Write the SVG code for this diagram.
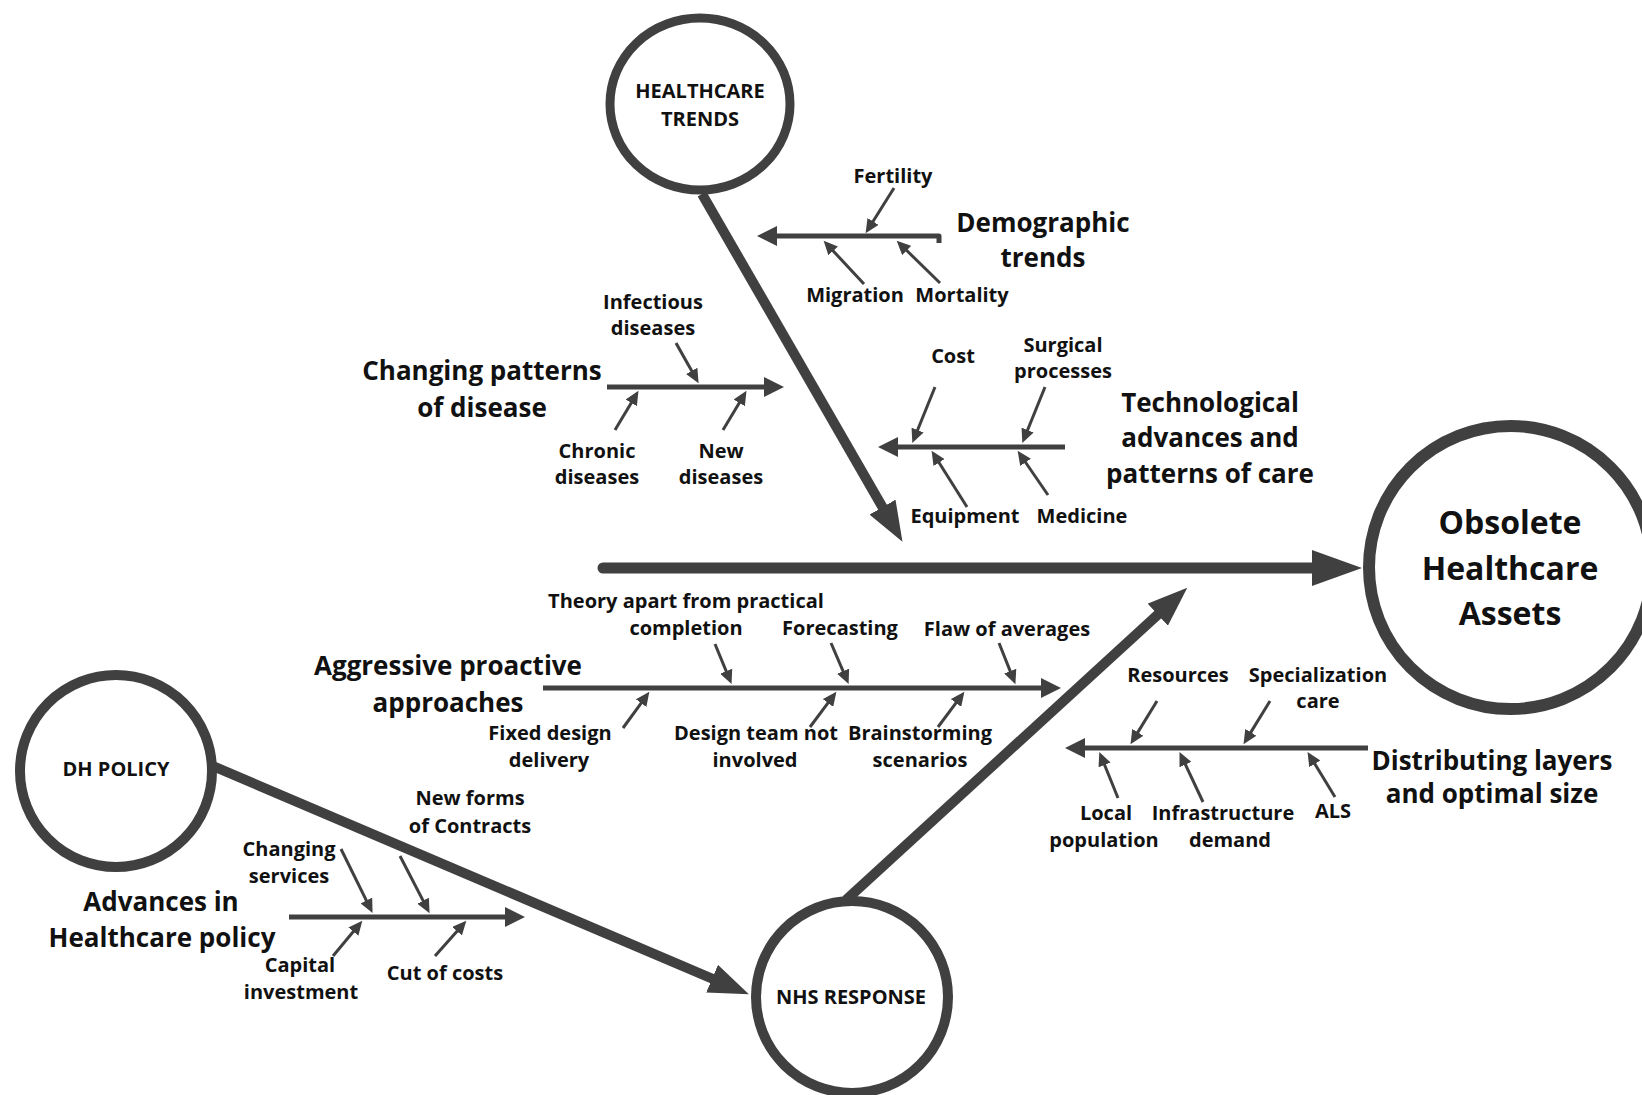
<svg xmlns="http://www.w3.org/2000/svg" width="1642" height="1095" viewBox="0 0 1642 1095">
  <style>
    text { font-family: "Open Sans", "Noto Sans", "DejaVu Sans", sans-serif; font-weight: 700; fill: #111; text-anchor: middle; }
    .sm { font-size: 20px; }
    .lg { font-size: 26px; }
    .xl { font-size: 32px; }
    .node { fill: #fff; stroke: #404040; }
    .spine { stroke: #404040; stroke-width: 11; fill: none; stroke-linecap: round; }
    .link { stroke: #404040; stroke-width: 10; fill: none; }
    .bone { stroke: #404040; stroke-width: 5; fill: none; }
    .rib { stroke: #404040; stroke-width: 3; fill: none; }
  </style>
  <defs>
    <marker id="spineHead" markerUnits="userSpaceOnUse" markerWidth="52" markerHeight="36" refX="1" refY="18" orient="auto">
      <path d="M0,0 L50,18 L0,36 Z" fill="#404040"/>
    </marker>
    <marker id="linkHead" markerUnits="userSpaceOnUse" markerWidth="42" markerHeight="30" refX="1" refY="15" orient="auto">
      <path d="M0,0 L40,15 L0,30 Z" fill="#404040"/>
    </marker>
    <marker id="boneHead" markerUnits="userSpaceOnUse" markerWidth="22" markerHeight="20" refX="1" refY="10" orient="auto">
      <path d="M0,0 L20,10 L0,20 Z" fill="#404040"/>
    </marker>
    <marker id="ribHead" markerUnits="userSpaceOnUse" markerWidth="16" markerHeight="13" refX="1" refY="6.5" orient="auto">
      <path d="M0,0 L14,6.5 L0,13 Z" fill="#404040"/>
    </marker>
  </defs>

  <g id="connectors">
    <!-- main spine into the effect -->
    <path class="spine" d="M603,568 H1313" marker-end="url(#spineHead)"/>
    <!-- category links between the driver nodes -->
    <path class="link" d="M702,194 L883,508" marker-end="url(#linkHead)"/>
    <path class="link" d="M208,764 L713,979" marker-end="url(#linkHead)"/>
    <path class="link" d="M846,900 L1158.5,614" marker-end="url(#linkHead)"/>

    <!-- bones -->
    <path class="bone" d="M939,243 V236 H776" stroke-linejoin="round" marker-end="url(#boneHead)"/>
    <path class="bone" d="M607,387 H765" marker-end="url(#boneHead)"/>
    <path class="bone" d="M1065,447 H897" marker-end="url(#boneHead)"/>
    <path class="bone" d="M543,688 H1042" marker-end="url(#boneHead)"/>
    <path class="bone" d="M1368,748 H1084" marker-end="url(#boneHead)"/>
    <path class="bone" d="M289,917 H506" marker-end="url(#boneHead)"/>

    <!-- ribs: demographic trends -->
    <path class="rib" d="M894,188 L872.5,222.2" marker-end="url(#ribHead)"/>
    <path class="rib" d="M864,284 L832.5,250.2" marker-end="url(#ribHead)"/>
    <path class="rib" d="M940,283 L906,249.8" marker-end="url(#ribHead)"/>
    <!-- ribs: changing patterns of disease -->
    <path class="rib" d="M676,343 L692.2,371.8" marker-end="url(#ribHead)"/>
    <path class="rib" d="M615,430 L631.8,402" marker-end="url(#ribHead)"/>
    <path class="rib" d="M723,430 L739.8,402" marker-end="url(#ribHead)"/>
    <!-- ribs: technological advances -->
    <path class="rib" d="M935,387 L917.2,431" marker-end="url(#ribHead)"/>
    <path class="rib" d="M1045,387 L1027.2,431" marker-end="url(#ribHead)"/>
    <path class="rib" d="M967,507 L938.5,461.8" marker-end="url(#ribHead)"/>
    <path class="rib" d="M1048,495 L1025,461.5" marker-end="url(#ribHead)"/>
    <!-- ribs: aggressive proactive approaches -->
    <path class="rib" d="M715,644 L726.6,672.1" marker-end="url(#ribHead)"/>
    <path class="rib" d="M831,643 L843.5,672.1" marker-end="url(#ribHead)"/>
    <path class="rib" d="M999,643 L1010.6,672.1" marker-end="url(#ribHead)"/>
    <path class="rib" d="M623,728 L641.7,702.3" marker-end="url(#ribHead)"/>
    <path class="rib" d="M810,727 L828.6,702.2" marker-end="url(#ribHead)"/>
    <path class="rib" d="M938,727 L956.6,702.2" marker-end="url(#ribHead)"/>
    <!-- ribs: distributing layers -->
    <path class="rib" d="M1157,701 L1137.3,733.1" marker-end="url(#ribHead)"/>
    <path class="rib" d="M1270,701 L1250.3,733.1" marker-end="url(#ribHead)"/>
    <path class="rib" d="M1118,798 L1104.2,764" marker-end="url(#ribHead)"/>
    <path class="rib" d="M1203,802 L1185,763.7" marker-end="url(#ribHead)"/>
    <path class="rib" d="M1335,797 L1314.3,763" marker-end="url(#ribHead)"/>
    <!-- ribs: healthcare policy -->
    <path class="rib" d="M341,849 L366.8,901.4" marker-end="url(#ribHead)"/>
    <path class="rib" d="M400,856 L423.6,901.6" marker-end="url(#ribHead)"/>
    <path class="rib" d="M333,956 L354,930.8" marker-end="url(#ribHead)"/>
    <path class="rib" d="M435,956 L457.7,930.5" marker-end="url(#ribHead)"/>
  </g>

  <g id="healthcare-trends">
    <ellipse class="node" cx="700" cy="104" rx="90" ry="86" stroke-width="9"/>
    <text class="sm" x="700" y="98" font-size="21">HEALTHCARE</text>
    <text class="sm" x="700" y="126" font-size="21">TRENDS</text>
  </g>

  <g id="dh-policy">
    <circle class="node" cx="116" cy="771" r="96" stroke-width="10"/>
    <text class="sm" x="116" y="776">DH POLICY</text>
  </g>

  <g id="nhs-response">
    <circle class="node" cx="852" cy="997" r="96" stroke-width="10"/>
    <text class="sm" x="851" y="1004">NHS RESPONSE</text>
  </g>

  <g id="obsolete-assets">
    <circle class="node" cx="1510.5" cy="567.5" r="141.5" stroke-width="12"/>
    <text class="xl" x="1510" y="534">Obsolete</text>
    <text class="xl" x="1510" y="580">Healthcare</text>
    <text class="xl" x="1510" y="625">Assets</text>
  </g>

  <g id="demographic-trends">
    <text class="lg" x="1043" y="232">Demographic</text>
    <text class="lg" x="1043" y="267">trends</text>
    <text class="sm" x="893" y="183">Fertility</text>
    <text class="sm" x="855" y="302">Migration</text>
    <text class="sm" x="962" y="302">Mortality</text>
  </g>

  <g id="changing-patterns">
    <text class="lg" x="482" y="380">Changing patterns</text>
    <text class="lg" x="482" y="417">of disease</text>
    <text class="sm" x="653" y="309">Infectious</text>
    <text class="sm" x="653" y="335">diseases</text>
    <text class="sm" x="597" y="458">Chronic</text>
    <text class="sm" x="597" y="484">diseases</text>
    <text class="sm" x="721" y="458">New</text>
    <text class="sm" x="721" y="484">diseases</text>
  </g>

  <g id="technological-advances">
    <text class="lg" x="1210" y="412">Technological</text>
    <text class="lg" x="1210" y="447">advances and</text>
    <text class="lg" x="1210" y="483">patterns of care</text>
    <text class="sm" x="953" y="363">Cost</text>
    <text class="sm" x="1063" y="352">Surgical</text>
    <text class="sm" x="1063" y="378">processes</text>
    <text class="sm" x="965" y="523">Equipment</text>
    <text class="sm" x="1082" y="523">Medicine</text>
  </g>

  <g id="aggressive-approaches">
    <text class="lg" x="448" y="675">Aggressive proactive</text>
    <text class="lg" x="448" y="712">approaches</text>
    <text class="sm" x="686" y="608">Theory apart from practical</text>
    <text class="sm" x="686" y="635">completion</text>
    <text class="sm" x="840" y="635">Forecasting</text>
    <text class="sm" x="1007" y="636">Flaw of averages</text>
    <text class="sm" x="550" y="740">Fixed design</text>
    <text class="sm" x="549" y="767">delivery</text>
    <text class="sm" x="756" y="740">Design team not</text>
    <text class="sm" x="755" y="767">involved</text>
    <text class="sm" x="920" y="740">Brainstorming</text>
    <text class="sm" x="920" y="767">scenarios</text>
  </g>

  <g id="distributing-layers">
    <text class="lg" x="1492" y="770">Distributing layers</text>
    <text class="lg" x="1492" y="803">and optimal size</text>
    <text class="sm" x="1178" y="682">Resources</text>
    <text class="sm" x="1318" y="682">Specialization</text>
    <text class="sm" x="1318" y="708">care</text>
    <text class="sm" x="1106" y="820">Local</text>
    <text class="sm" x="1104" y="847">population</text>
    <text class="sm" x="1223" y="820">Infrastructure</text>
    <text class="sm" x="1230" y="847">demand</text>
    <text class="sm" x="1333" y="818">ALS</text>
  </g>

  <g id="healthcare-policy">
    <text class="lg" x="161" y="911">Advances in</text>
    <text class="lg" x="162" y="947">Healthcare policy</text>
    <text class="sm" x="470" y="805">New forms</text>
    <text class="sm" x="470" y="833">of Contracts</text>
    <text class="sm" x="289" y="856">Changing</text>
    <text class="sm" x="289" y="883">services</text>
    <text class="sm" x="300" y="972">Capital</text>
    <text class="sm" x="301" y="999">investment</text>
    <text class="sm" x="445" y="980">Cut of costs</text>
  </g>
</svg>
